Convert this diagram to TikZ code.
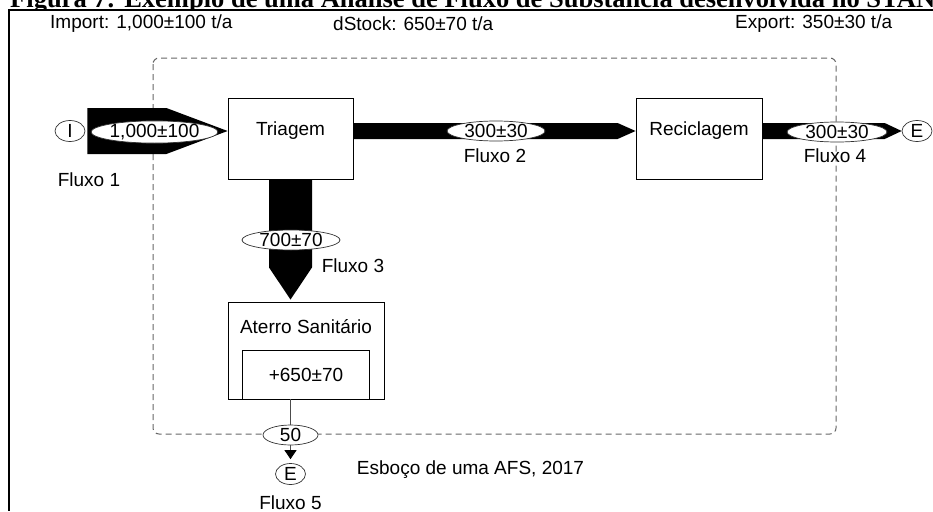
\documentclass[tikz,border=0pt]{standalone}
\usepackage{fontspec}
\setmainfont{Liberation Sans}
\newfontfamily\captionfont{Liberation Serif}
\usetikzlibrary{positioning, calc, arrows.meta, shapes.geometric}

\tikzset{
  procbox/.style={draw, fill=white, line width=0.8pt, minimum width=125pt, minimum height=81pt, inner sep=0pt},
  flowtag/.style={ellipse, draw=black!80, fill=white, line width=0.7pt, minimum width=98pt, minimum height=20pt, inner sep=0pt},
  termin/.style={ellipse, draw=black!80, fill=white, line width=0.7pt, minimum width=30pt, minimum height=21pt, inner sep=0pt},
}

\begin{document}
\begin{tikzpicture}[x=1pt, y=-1pt, font=\fontsize{19}{22}\selectfont]

    \useasboundingbox (0,0) rectangle (933,511);

    % --- Caption (cut off at the top) ---
    \begin{scope}
      \clip (0,0) rectangle (933,9.5);
      \node[anchor=base west, inner sep=0pt, font=\captionfont\fontsize{26.5}{30}\selectfont\bfseries] (caption) at (10,8)
        {Figura 7: Exemplo de uma Análise de Fluxo de Substância desenvolvida no STAN};
    \end{scope}

    % Frame
    \draw[line width=1.4pt] (933,10) -- (9,10) -- (9,511);

    % --- Header ---
    \node[anchor=west, inner sep=0pt] (imp) at (50,24) {Import: 1,000±100 t/a};
    \node[anchor=west, inner sep=0pt] (dstock) at (333,24) {dStock: 650±70 t/a};
    \node[anchor=west, inner sep=0pt] (exp) at (735,24) {Export: 350±30 t/a};

    % System boundary
    \draw[black!60, line width=1pt, dash pattern=on 6pt off 4pt, rounded corners=6pt] (153,58) rectangle (836,434);

    % --- Processes ---
    \node[termin] (fin) at (70,131) {I};
    \node[procbox] (tria) at (290.5,138.5) {};
    \node[procbox, minimum width=126pt] (recic) at (699,138.5) {};
    \node[termin] (fout) at (917,131) {E};
    \node[procbox, minimum width=156pt, minimum height=97pt] (aterro) at (306,350.5) {};
    \node[minimum width=126pt, minimum height=48pt, inner sep=0pt] (stock) at (306,375) {+650±70};
    \draw[line width=0.8pt] (stock.south west) |- (stock.north east) -- (stock.south east);
    \node[termin] (fdep) at (290.5,474) {E};

    \node (triatxt) at (290.5,131) {Triagem};
    \node (recictxt) at (699,131) {Reciclagem};
    \node (atertxt) at (306,327) {Aterro Sanitário};

    % --- Flows ---
    % Fluxo 1
    \fill ($(fin.east)+(2,-23)$) -- ($(fin.east)+(81,-23)$) -- (tria.west |- fin)
          -- ($(fin.east)+(81,23)$) -- ($(fin.east)+(2,23)$) -- cycle;
    % Fluxo 2
    \fill ($(tria.east |- fin)+(0,-8)$) -- ($(recic.west |- fin)+(-18,-8)$) -- (recic.west |- fin)
          -- ($(recic.west |- fin)+(-18,8)$) -- ($(tria.east |- fin)+(0,8)$) -- cycle;
    % Fluxo 4
    \fill ($(recic.east |- fin)+(0,-8)$) -- ($(fout.west)+(-17,-8)$) -- (fout.west)
          -- ($(fout.west)+(-17,8)$) -- ($(recic.east |- fin)+(0,8)$) -- cycle;
    % Fluxo 3
    \fill ($(tria.south)+(-21.5,0)$) -- ($(tria.south)+(-21.5,88)$) -- ($(tria.south |- aterro.north)+(0,-2)$)
          -- ($(tria.south)+(21.5,88)$) -- ($(tria.south)+(21.5,0)$) -- cycle;
    % Fluxo 5
    \node[flowtag, minimum width=55pt] (f5) at (290.5,435) {50};
    \draw[black!70, line width=0.8pt] (aterro.south -| f5) -- (f5);
    \draw[black!70, line width=0.8pt, -{Triangle[width=12pt,length=9pt,fill=black,color=black]}, shorten >=4pt] (f5) -- (fdep);

    % --- Flow values ---
    \node[flowtag, minimum width=125pt] (f1) at (154.5,132) {1,000±100};
    \node[flowtag] (f2) at (496,131) {300±30};
    \node[flowtag, minimum width=100pt] (f4) at (837,132) {300±30};
    \node[flowtag] (f3) at (291,240) {700±70};

    % --- Flow names ---
    \node (fl1) at (89,180) {Fluxo 1};
    \node (fl2) at (495,156) {Fluxo 2};
    \node (fl3) at (353,266) {Fluxo 3};
    \node (fl4) at (835,156) {Fluxo 4};
    \node (fl5) at (290.5,503) {Fluxo 5};

    \node (sketch) at (470.5,470) {Esboço de uma AFS, 2017};

\end{tikzpicture}
\end{document}
